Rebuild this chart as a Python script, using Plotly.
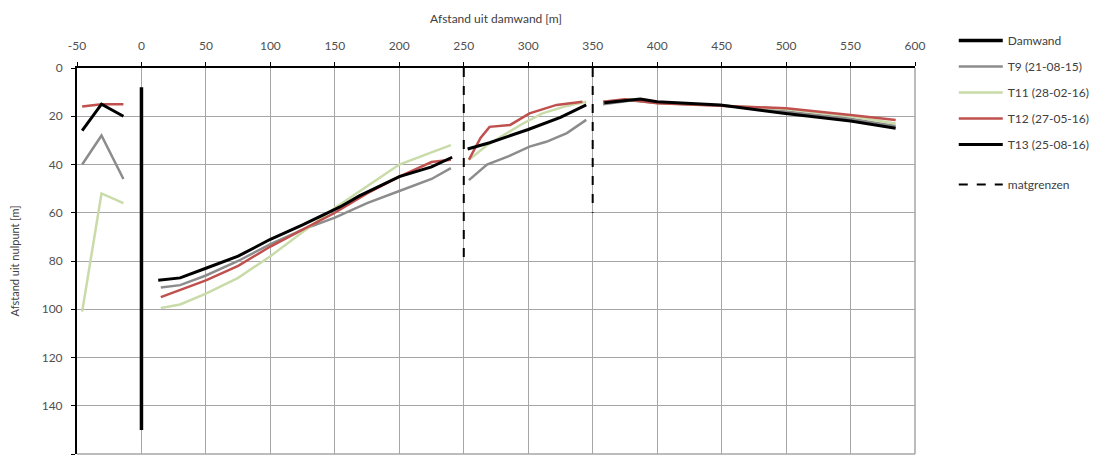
import plotly.graph_objects as go

# ---- data (x = Afstand uit damwand [m], y = Afstand uit nulpunt [m]) ----
damwand_x = [0, 0]
damwand_y = [8, 150]

t9_x = [-46, -31, -14, None, 15, 30, 50, 75, 100, 125, 150, 175, 200, 225, 240, None,
        254, 268, 285, 301, 314, 330, 345, None, 358, 380, 400, 450, 500, 550, 585]
t9_y = [40, 28, 46, None, 91, 90, 86, 80, 73, 67, 62, 56, 51, 46, 41.5, None,
        46.5, 40, 36.5, 32.6, 30.6, 27, 21.5, None, 15, 13.5, 14.5, 15.5, 18, 21, 24]

t11_x = [-46, -31, -14, None, 15, 30, 50, 75, 100, 125, 150, 175, 200, 225, 240, None,
         254, 268, 281, 296, 311, 328, 345, None, 358, 380, 400, 450, 500, 550, 585]
t11_y = [101, 52, 56, None, 99.5, 98, 93.5, 87, 78, 68, 58, 49, 40, 35, 32, None,
         38, 32, 27.8, 23, 18.8, 16, 14, None, 14, 13, 14.5, 15.5, 17, 20, 23]

t12_x = [-46, -31, -14, None, 15, 30, 50, 75, 100, 125, 150, 175, 200, 225, 240, None,
         254, 263, 270, 286, 301, 322, 342, None, 358, 375, 400, 450, 500, 550, 585]
t12_y = [16, 15, 15, None, 95, 92, 88, 82, 74, 67, 60, 52, 45, 39, 38, None,
         38, 29, 24.4, 23.6, 18.8, 15.3, 14, None, 14, 13, 14.6, 15.5, 16.7, 19.5, 21.6]

t13_x = [-46, -31, -14, None, 13, 30, 50, 75, 100, 125, 154, 169, 200, 225, 241, None,
         253, 270, 300, 325, 345, None, 359, 387, 400, 449, 498, 550, 585]
t13_y = [26, 15, 20, None, 88, 87, 83, 78, 71, 65, 57.6, 53, 45, 41, 37, None,
         33.6, 31, 25.5, 20.5, 15.3, None, 14.4, 12.9, 14, 15.3, 18.8, 22, 25]

mat_x = [250, 250, None, 350, 350]
mat_y = [0, 80, None, 0, 60]

names = ["Damwand", "T9 (21-08-15)", "T11 (28-02-16)", "T12 (27-05-16)",
         "T13 (25-08-16)", "matgrenzen"]

x_tickvals = [-50, 0, 50, 100, 150, 200, 250, 300, 350, 400, 450, 500, 550, 600]
x_ticktext = ["-50", "0", "50", "100", "150", "200", "250", "300", "350", "400",
              "450", "500", "550", "600"]
y_tickvals = [0, 20, 40, 60, 80, 100, 120, 140, 160]
y_ticktext = ["0", "20", "40", "60", "80", "100", "120", "140", "160"]

fig = go.Figure()
series = [
    (damwand_x, damwand_y, "#000000", 3.5, "solid", "legend"),
    (t9_x, t9_y, "#8c8c8c", 2.5, "solid", "legend"),
    (t11_x, t11_y, "#c9dba9", 2.5, "solid", "legend"),
    (t12_x, t12_y, "#c0504d", 2.5, "solid", "legend"),
    (t13_x, t13_y, "#000000", 3, "solid", "legend"),
    (mat_x, mat_y, "#000000", 2, "dash", "legend2"),
]
for i, (xs, ys, col, w, dash, lg) in enumerate(series):
    fig.add_trace(go.Scatter(x=xs, y=ys, mode="lines", name=names[i],
                             legendgroup=f"g{i}", legend=lg,
                             line=dict(color=col, width=w, dash=dash),
                             connectgaps=False))

# page has an 8px body margin: figure is offset by (8, 8)
legend_common = dict(xref="container", yref="container", x=0.859,
                     xanchor="left", yanchor="top", itemwidth=44,
                     tracegroupgap=7, font=dict(size=12, color="#404040"),
                     bgcolor="rgba(0,0,0,0)")
fig.update_layout(
    width=1101, height=450,
    margin=dict(l=69, r=194, t=60, b=4),
    paper_bgcolor="white", plot_bgcolor="white",
    font=dict(family="Lato, Open Sans, sans-serif", size=12, color="#404040"),
    legend=dict(y=0.96, **legend_common),
    legend2=dict(y=0.64, **legend_common),
    showlegend=True,
)
fig.update_xaxes(side="top", range=[-50, 600], tickvals=x_tickvals, ticktext=x_ticktext,
                 automargin=False,
                 showgrid=True, gridcolor="#a6a6a6", gridwidth=1,
                 zeroline=False, showline=True, linecolor="#000000", linewidth=2,
                 ticks="outside", ticklen=4, tickcolor="#000000", ticklabelstandoff=7,
                 tickfont=dict(size=12, color="#505050"),
                 title=dict(text="Afstand uit damwand [m]", standoff=12,
                            font=dict(size=12, color="#404040")))
fig.update_yaxes(range=[160, 0], tickvals=y_tickvals, ticktext=y_ticktext,
                 automargin=False,
                 showgrid=True, gridcolor="#a6a6a6", gridwidth=1,
                 zeroline=False, showline=True, linecolor="#000000", linewidth=2,
                 ticks="outside", ticklen=4, tickcolor="#000000", ticklabelstandoff=6,
                 tickfont=dict(size=12, color="#505050"),
                 title=dict(text="Afstand uit nulpunt [m]", standoff=22,
                            font=dict(size=11, color="#404040")))
# right and bottom frame lines in grid colour
fig.add_shape(type="line", xref="paper", yref="paper", x0=1, x1=1, y0=0, y1=1,
              line=dict(color="#a6a6a6", width=1.5))
fig.add_shape(type="line", xref="paper", yref="paper", x0=0, x1=1, y0=0, y1=0,
              line=dict(color="#a6a6a6", width=1.5))

fig.write_html("out.html")
